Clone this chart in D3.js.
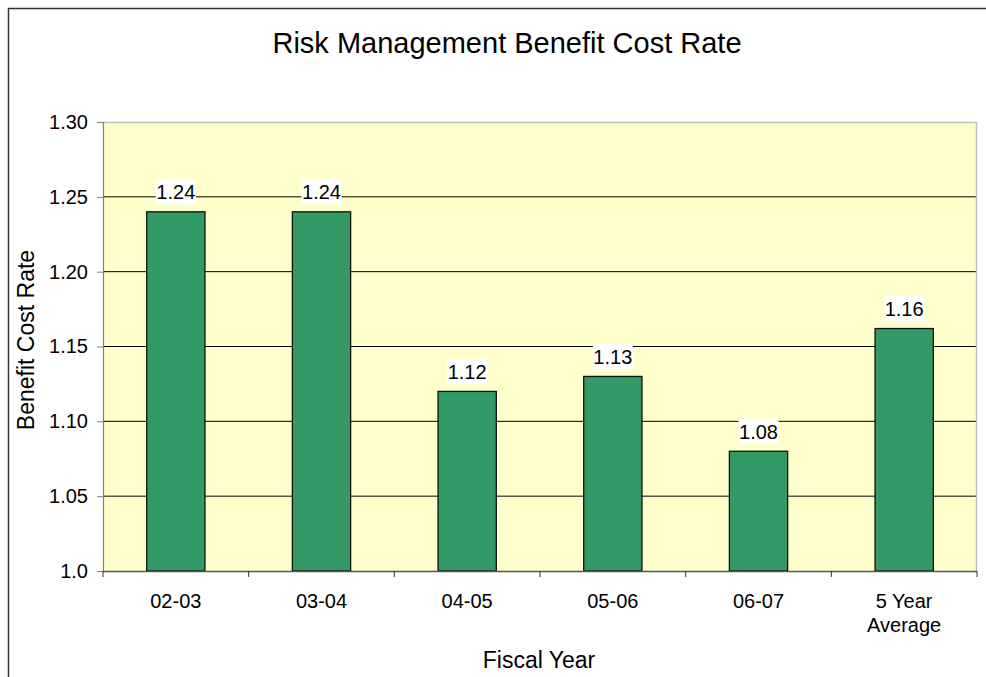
<!DOCTYPE html>
<html><head><meta charset="utf-8">
<script src="https://cdn.jsdelivr.net/npm/d3@7"></script>
<style>body{margin:0;background:#fff}svg{display:block;font-family:"Liberation Sans",Arial,sans-serif}</style>
</head><body>
<svg id="c" width="986" height="677"></svg>
<script>
const categories = ["02-03","03-04","04-05","05-06","06-07","5 Year|Average"];
const values = [1.24,1.24,1.12,1.13,1.08,1.162];
const valueLabels = ["1.24","1.24","1.12","1.13","1.08","1.16"];
const yTicks = [1.0,1.05,1.10,1.15,1.20,1.25,1.30];
const yTickLabels = ["1.0","1.05","1.10","1.15","1.20","1.25","1.30"];

const svg = d3.select("#c");
const L=103, R=977, T=122, B=571;

// outer border
svg.append("path").attr("d","M8.5,700 V8.5 H990").attr("fill","none").attr("stroke","#333").attr("stroke-width",1.5);

// plot bg
svg.append("rect").attr("x",L).attr("y",T).attr("width",R-L).attr("height",B-T).attr("fill","#ffffcc");

const x = d3.scaleBand().domain(categories).range([L,R]).paddingInner(0.6).paddingOuter(0.3);
const xb = d3.scaleBand().domain(categories).range([L,R]);
const y = d3.scaleLinear().domain([1.0,1.30]).range([B,T]);

// gridlines
svg.append("g").selectAll("line").data(yTicks.slice(1,-1)).join("line")
  .attr("x1",L).attr("x2",R).attr("y1",d=>y(d)).attr("y2",d=>y(d)).attr("stroke","#000").attr("stroke-width",1);

// plot border
svg.append("line").attr("x1",L).attr("x2",R).attr("y1",T+0.5).attr("y2",T+0.5).attr("stroke","#c0c0c0").attr("stroke-width",1.5);
svg.append("line").attr("x1",R-0.5).attr("x2",R-0.5).attr("y1",T).attr("y2",B).attr("stroke","#c0c0c0").attr("stroke-width",1.5);

// bars
svg.append("g").selectAll("rect").data(values).join("rect")
  .attr("x",(d,i)=>x(categories[i])).attr("width",x.bandwidth())
  .attr("y",d=>y(d)).attr("height",d=>B-y(d))
  .attr("fill","#339966").attr("stroke","#111").attr("stroke-width",1.3);

// y axis
const yAxis = d3.axisLeft(y).tickValues(yTicks).tickFormat((d,i)=>yTickLabels[i]).tickSize(6).tickPadding(9);
const gy = svg.append("g").attr("transform",`translate(${L},0)`).call(yAxis);
gy.select(".domain").attr("stroke","#808080").attr("stroke-width",1.2);
gy.selectAll(".tick line").attr("stroke","#808080");
gy.selectAll("text").attr("font-size",20).attr("fill","#000").attr("font-family","Liberation Sans, Arial, sans-serif");

// x axis
const gx = svg.append("g").attr("transform",`translate(0,${B})`);
gx.append("line").attr("x1",L).attr("x2",R).attr("y1",0.5).attr("y2",0.5).attr("stroke","#555").attr("stroke-width",1.5);
const bounds = categories.map(c=>xb(c)).concat([R]);
gx.selectAll("line.t").data(bounds).join("line").attr("class","t")
  .attr("x1",d=>d).attr("x2",d=>d).attr("y1",0).attr("y2",6).attr("stroke","#333");
gx.selectAll("text").data(categories).join("text")
  .attr("x",d=>xb(d)+xb.bandwidth()/2).attr("text-anchor","middle").attr("font-size",20)
  .each(function(d){
    const lines=d.split("|");
    d3.select(this).selectAll("tspan").data(lines).join("tspan")
      .attr("x",xb(d)+xb.bandwidth()/2).attr("y",(l,j)=>37+j*23.5).text(l=>l);
  });

// value labels
const lg = svg.append("g");
values.forEach((v,i)=>{
  const cx = x(categories[i])+x.bandwidth()/2;
  const by = y(v)-12.5;
  lg.append("rect").attr("x",cx-20).attr("y",by-20).attr("width",40).attr("height",25).attr("fill","#fff");
  lg.append("text").attr("x",cx).attr("y",by).attr("text-anchor","middle").attr("font-size",20).text(valueLabels[i]);
});

// titles
svg.append("text").attr("x",507).attr("y",53).attr("text-anchor","middle").attr("font-size",29).text("Risk Management Benefit Cost Rate");
svg.append("text").attr("transform",`translate(34,340) rotate(-90)`).attr("text-anchor","middle").attr("font-size",23).text("Benefit Cost Rate");
svg.append("text").attr("x",539).attr("y",668).attr("text-anchor","middle").attr("font-size",23).text("Fiscal Year");
</script>
</body></html>
